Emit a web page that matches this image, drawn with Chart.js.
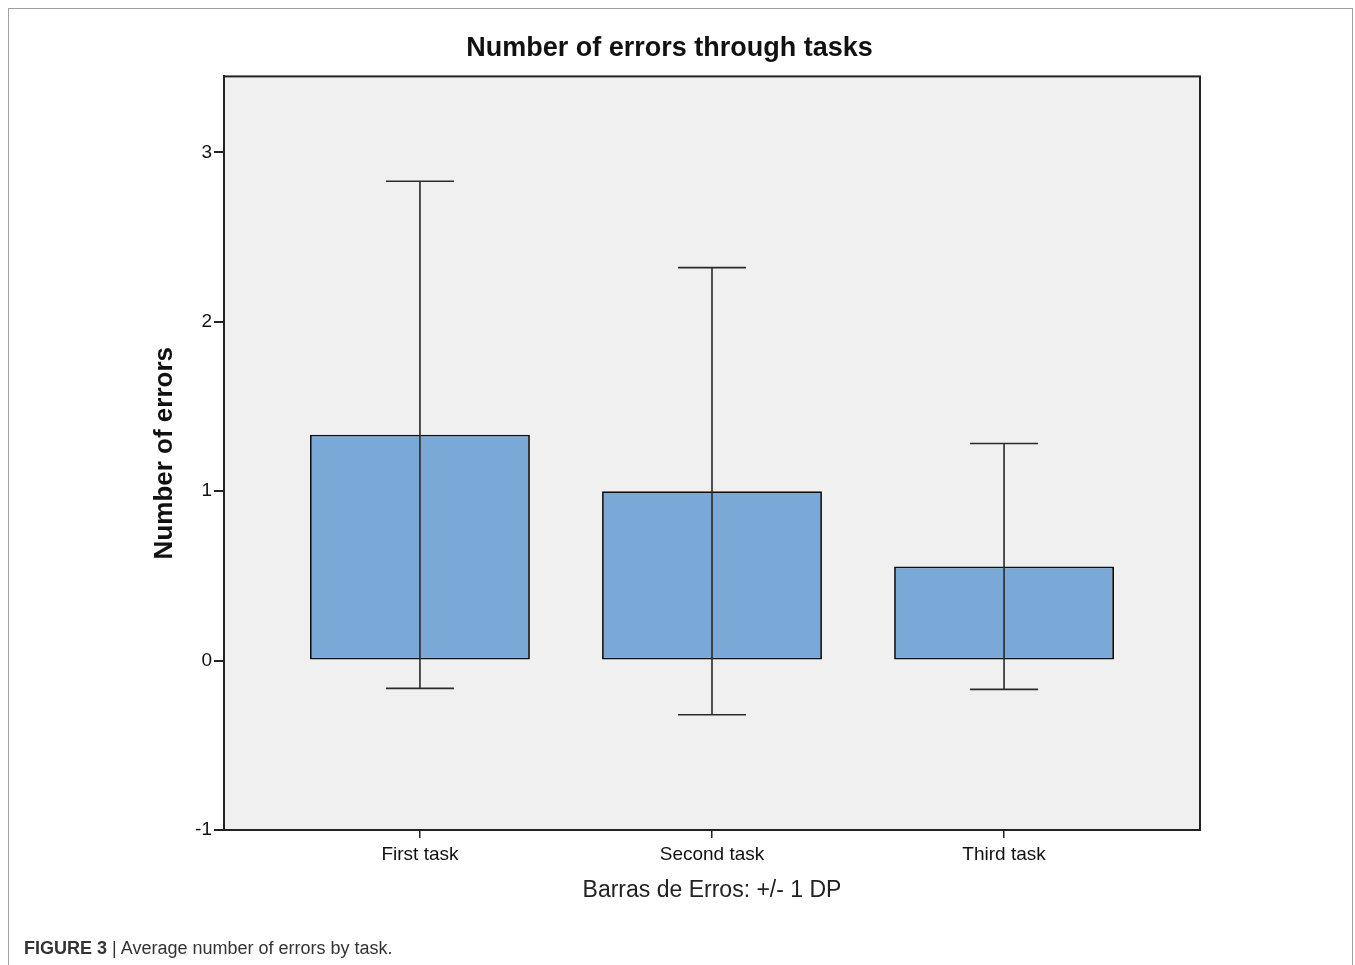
<!DOCTYPE html>
<html lang="en">

<head>
    <meta charset="UTF-8">
    <title>Number of errors through tasks</title>
    <script src="https://cdn.jsdelivr.net/npm/chart.js"></script>
    <style>
        html, body { margin: 0; padding: 0; background: #fff; }
        body { width: 1355px; height: 965px; position: relative; overflow: hidden; }
        .frame {
            position: absolute; left: 8px; top: 8px; width: 1345px; height: 1000px;
            border: 1.5px solid #a0a0a0; box-sizing: border-box;
        }
        #chart { position: absolute; left: 0; top: 0; }
        .caption {
            position: absolute; left: 24px; top: 938px;
            font-family: "Liberation Sans", Arial, sans-serif; font-size: 18px; color: #333;
        }
    </style>
</head>

<body>
    <div class="frame"></div>
    <canvas id="chart" width="1355" height="965"></canvas>
    <div class="caption"><b>FIGURE 3</b> | Average number of errors by task.</div>

    <script>
        // chart data
        const tasks = ['First task', 'Second task', 'Third task'];
        const meanErrors = [1.333, 1.0, 0.556];
        const sdErrors = [1.497, 1.32, 0.726];
        const yTicks = [-1, 0, 1, 2, 3];

        const FONT = '"Liberation Sans", Arial, sans-serif';

        // grey panel + box around the plot area
        const panelPlugin = {
            id: 'panel',
            beforeDraw(chart) {
                const { ctx, chartArea: a } = chart;
                ctx.save();
                ctx.fillStyle = '#f0f0f0';
                ctx.fillRect(a.left, a.top, a.right - a.left, a.bottom - a.top);
                ctx.restore();
            },
            afterDraw(chart) {
                const { ctx, chartArea: a } = chart;
                ctx.save();
                ctx.strokeStyle = '#222';
                ctx.lineWidth = 2;
                ctx.strokeRect(a.left, a.top, a.right - a.left, a.bottom - a.top);
                ctx.restore();
            }
        };

        // +/- 1 SD error bars
        const errorBarPlugin = {
            id: 'errorBars',
            afterDatasetsDraw(chart) {
                const { ctx, scales: { x, y } } = chart;
                ctx.save();
                ctx.strokeStyle = '#2a2a2a';
                ctx.lineWidth = 1.6;
                meanErrors.forEach((m, i) => {
                    const px = x.getPixelForValue(i);
                    const hi = y.getPixelForValue(m + sdErrors[i]);
                    const lo = y.getPixelForValue(m - sdErrors[i]);
                    ctx.beginPath();
                    ctx.moveTo(px, hi); ctx.lineTo(px, lo);
                    ctx.moveTo(px - 34, hi); ctx.lineTo(px + 34, hi);
                    ctx.moveTo(px - 34, lo); ctx.lineTo(px + 34, lo);
                    ctx.stroke();
                });
                ctx.restore();
            }
        };

        new Chart(document.getElementById('chart'), {
            type: 'bar',
            data: {
                datasets: [{
                    data: meanErrors.map((v, i) => ({ x: i, y: v })),
                    backgroundColor: '#7ba9d7',
                    borderColor: '#111',
                    borderWidth: 1.8,
                    borderSkipped: false,
                    categoryPercentage: 1,
                    barPercentage: 0.753
                }]
            },
            options: {
                responsive: false,
                devicePixelRatio: 1,
                animation: false,
                layout: { padding: { left: 139, right: 155, top: 0, bottom: 55 } },
                plugins: {
                    legend: { display: false },
                    tooltip: { enabled: false },
                    title: {
                        display: true,
                        text: 'Number of errors through tasks',
                        color: '#111',
                        font: { family: FONT, size: 27, weight: 'bold' },
                        padding: { top: 32, bottom: 12 }
                    }
                },
                scales: {
                    x: {
                        type: 'linear',
                        offset: false,
                        min: -0.671,
                        max: 2.671,
                        afterBuildTicks: s => { s.ticks = tasks.map((t, i) => ({ value: i })); },
                        afterFit: s => { s.height = 80; },
                        ticks: {
                            callback: v => tasks[v],
                            color: '#111',
                            font: { family: FONT, size: 19 },
                            padding: 5,
                            maxRotation: 0
                        },
                        grid: { offset: false, drawOnChartArea: false, tickLength: 8, color: '#222', lineWidth: 1.5 },
                        border: { display: true, color: '#222', width: 2 },
                        title: {
                            display: true,
                            text: 'Barras de Erros: +/- 1 DP',
                            color: '#222',
                            font: { family: FONT, size: 23 },
                            padding: { top: 0, bottom: 6 }
                        }
                    },
                    y: {
                        min: -1,
                        max: 3.449,
                        afterBuildTicks: s => { s.ticks = yTicks.map(v => ({ value: v })); },
                        afterFit: s => { s.width = 85; },
                        ticks: {
                            color: '#111',
                            font: { family: FONT, size: 19 },
                            padding: 2
                        },
                        grid: { drawOnChartArea: false, tickLength: 10, color: '#222', lineWidth: 2 },
                        border: { display: true, color: '#222', width: 2 },
                        title: {
                            display: true,
                            text: 'Number of errors',
                            color: '#111',
                            font: { family: FONT, size: 26, weight: 'bold' },
                            padding: { top: 10, bottom: 0 }
                        }
                    }
                }
            },
            plugins: [panelPlugin, errorBarPlugin]
        });
    </script>

</body>

</html>
